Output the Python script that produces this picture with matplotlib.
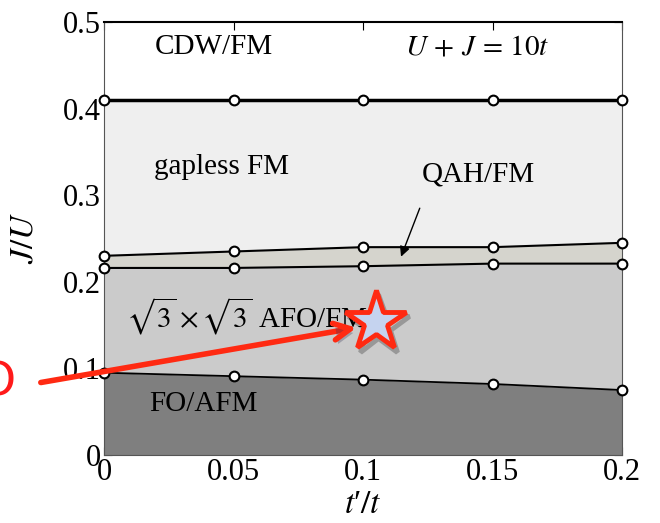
import numpy as np
import matplotlib.pyplot as plt
import matplotlib.patheffects as pe

plt.rcParams['font.family'] = ['Liberation Serif', 'DejaVu Serif']
plt.rcParams['mathtext.fontset'] = 'stix'

# t'/t grid and phase boundaries (J/U)
tp = [0, 0.05, 0.1, 0.15, 0.2]
b_fo = [0.095, 0.091, 0.087, 0.082, 0.075]       # FO/AFM | AFO/FM
b_afo = [0.216, 0.216, 0.218, 0.221, 0.221]      # AFO/FM | QAH/FM
b_qah = [0.230, 0.235, 0.240, 0.240, 0.245]      # QAH/FM | gapless FM
b_cdw = [0.41, 0.41, 0.41, 0.41, 0.41]           # gapless FM | CDW/FM

xticks = [0, 0.05, 0.1, 0.15, 0.2]
xticklabels = ['0', '0.05', '0.1', '0.15', '0.2']
yticks = [0, 0.1, 0.2, 0.3, 0.4, 0.5]
yticklabels = ['0', '0.1', '0.2', '0.3', '0.4', '0.5']

fig = plt.figure(figsize=(6.6, 5.23), dpi=100)
ax = fig.add_axes([104/660, 68/523, 518/660, 433/523])
ax.set_axisbelow(True)

zeros = np.zeros(len(tp))
ax.fill_between(tp, zeros, b_fo, color='#7f7f7f', lw=0)
ax.fill_between(tp, b_fo, b_afo, color='#cbcbcb', lw=0)
ax.fill_between(tp, b_afo, b_qah, color='#d5d4cd', lw=0)
ax.fill_between(tp, b_qah, b_cdw, color='#efefef', lw=0)

mk = dict(marker='o', ms=7, mfc='white', mec='black', mew=1.5, color='black', clip_on=False, zorder=4)
ax.plot(tp, b_fo, lw=1.3, **mk)
ax.plot(tp, b_afo, lw=1.5, **mk)
ax.plot(tp, b_qah, lw=1.5, **mk)
ax.plot(tp, b_cdw, lw=2.5, **mk)

ax.set_xlim(0, 0.2)
ax.set_ylim(0, 0.5)
ax.set_xticks(xticks)
ax.set_xticklabels(xticklabels)
ax.set_yticks(yticks)
ax.set_yticklabels(yticklabels)
ax.tick_params(direction='in', top=True, right=True, length=6, labelsize=22, pad=2)
for s in ['left', 'bottom', 'right']:
    ax.spines[s].set_color('#555555')
    ax.spines[s].set_linewidth(0.8)
ax.spines['top'].set_linewidth(1.5)

ax.set_xlabel("$t$\u2032$/t$", fontsize=24)
ax.set_ylabel('$J/U$', fontsize=24)
ax.xaxis.set_label_coords(0.5, -0.08)
ax.yaxis.set_label_coords(-0.125, 0.5)

fs = 21
ax.text(0.0423, 0.471, 'CDW/FM', fontsize=fs, ha='center', va='center')
ax.text(0.144, 0.471, r'$U\,+\,J\,=\,10t$', fontsize=fs, ha='center', va='center')
ax.text(0.0455, 0.333, 'gapless FM', fontsize=fs, ha='center', va='center')
ax.text(0.1447, 0.3235, 'QAH/FM', fontsize=fs, ha='center', va='center')
ax.annotate('', xy=(0.1143, 0.226), xytext=(0.1223, 0.288),
            arrowprops=dict(arrowstyle='-|>', color='black', lw=1, mutation_scale=15), zorder=5)
ax.text(0.0085, 0.160, r'$\sqrt{3}\times\sqrt{3}$ AFO/FM', fontsize=fs, ha='left', va='center', zorder=5)
ax.text(0.0382, 0.0587, 'FO/AFM', fontsize=fs, ha='center', va='center', zorder=5)

shadow = [pe.SimplePatchShadow(offset=(2, -3), alpha=0.3, shadow_rgbFace='#333355'), pe.Normal()]
ax.annotate('', xy=(0.0975, 0.147), xytext=(-0.0244, 0.0837), annotation_clip=False,
            arrowprops=dict(arrowstyle='->', color='#ff2a12', lw=4, mutation_scale=30,
                            shrinkA=0, shrinkB=0, path_effects=shadow), zorder=6)
ax.plot([0.1049], [0.154], marker='*', ms=46, mfc='#c5d3ef', mec='#ff2a12', mew=3.5,
        zorder=7, clip_on=False, path_effects=[pe.SimpleLineShadow(offset=(2, -3), alpha=0.25), pe.Normal()])

fig.text(-0.004, 1 - 383/523, 'O', color='#ff1a1a', fontsize=34, family='DejaVu Sans',
         ha='center', va='center')

fig.savefig('out.png', dpi=100)
